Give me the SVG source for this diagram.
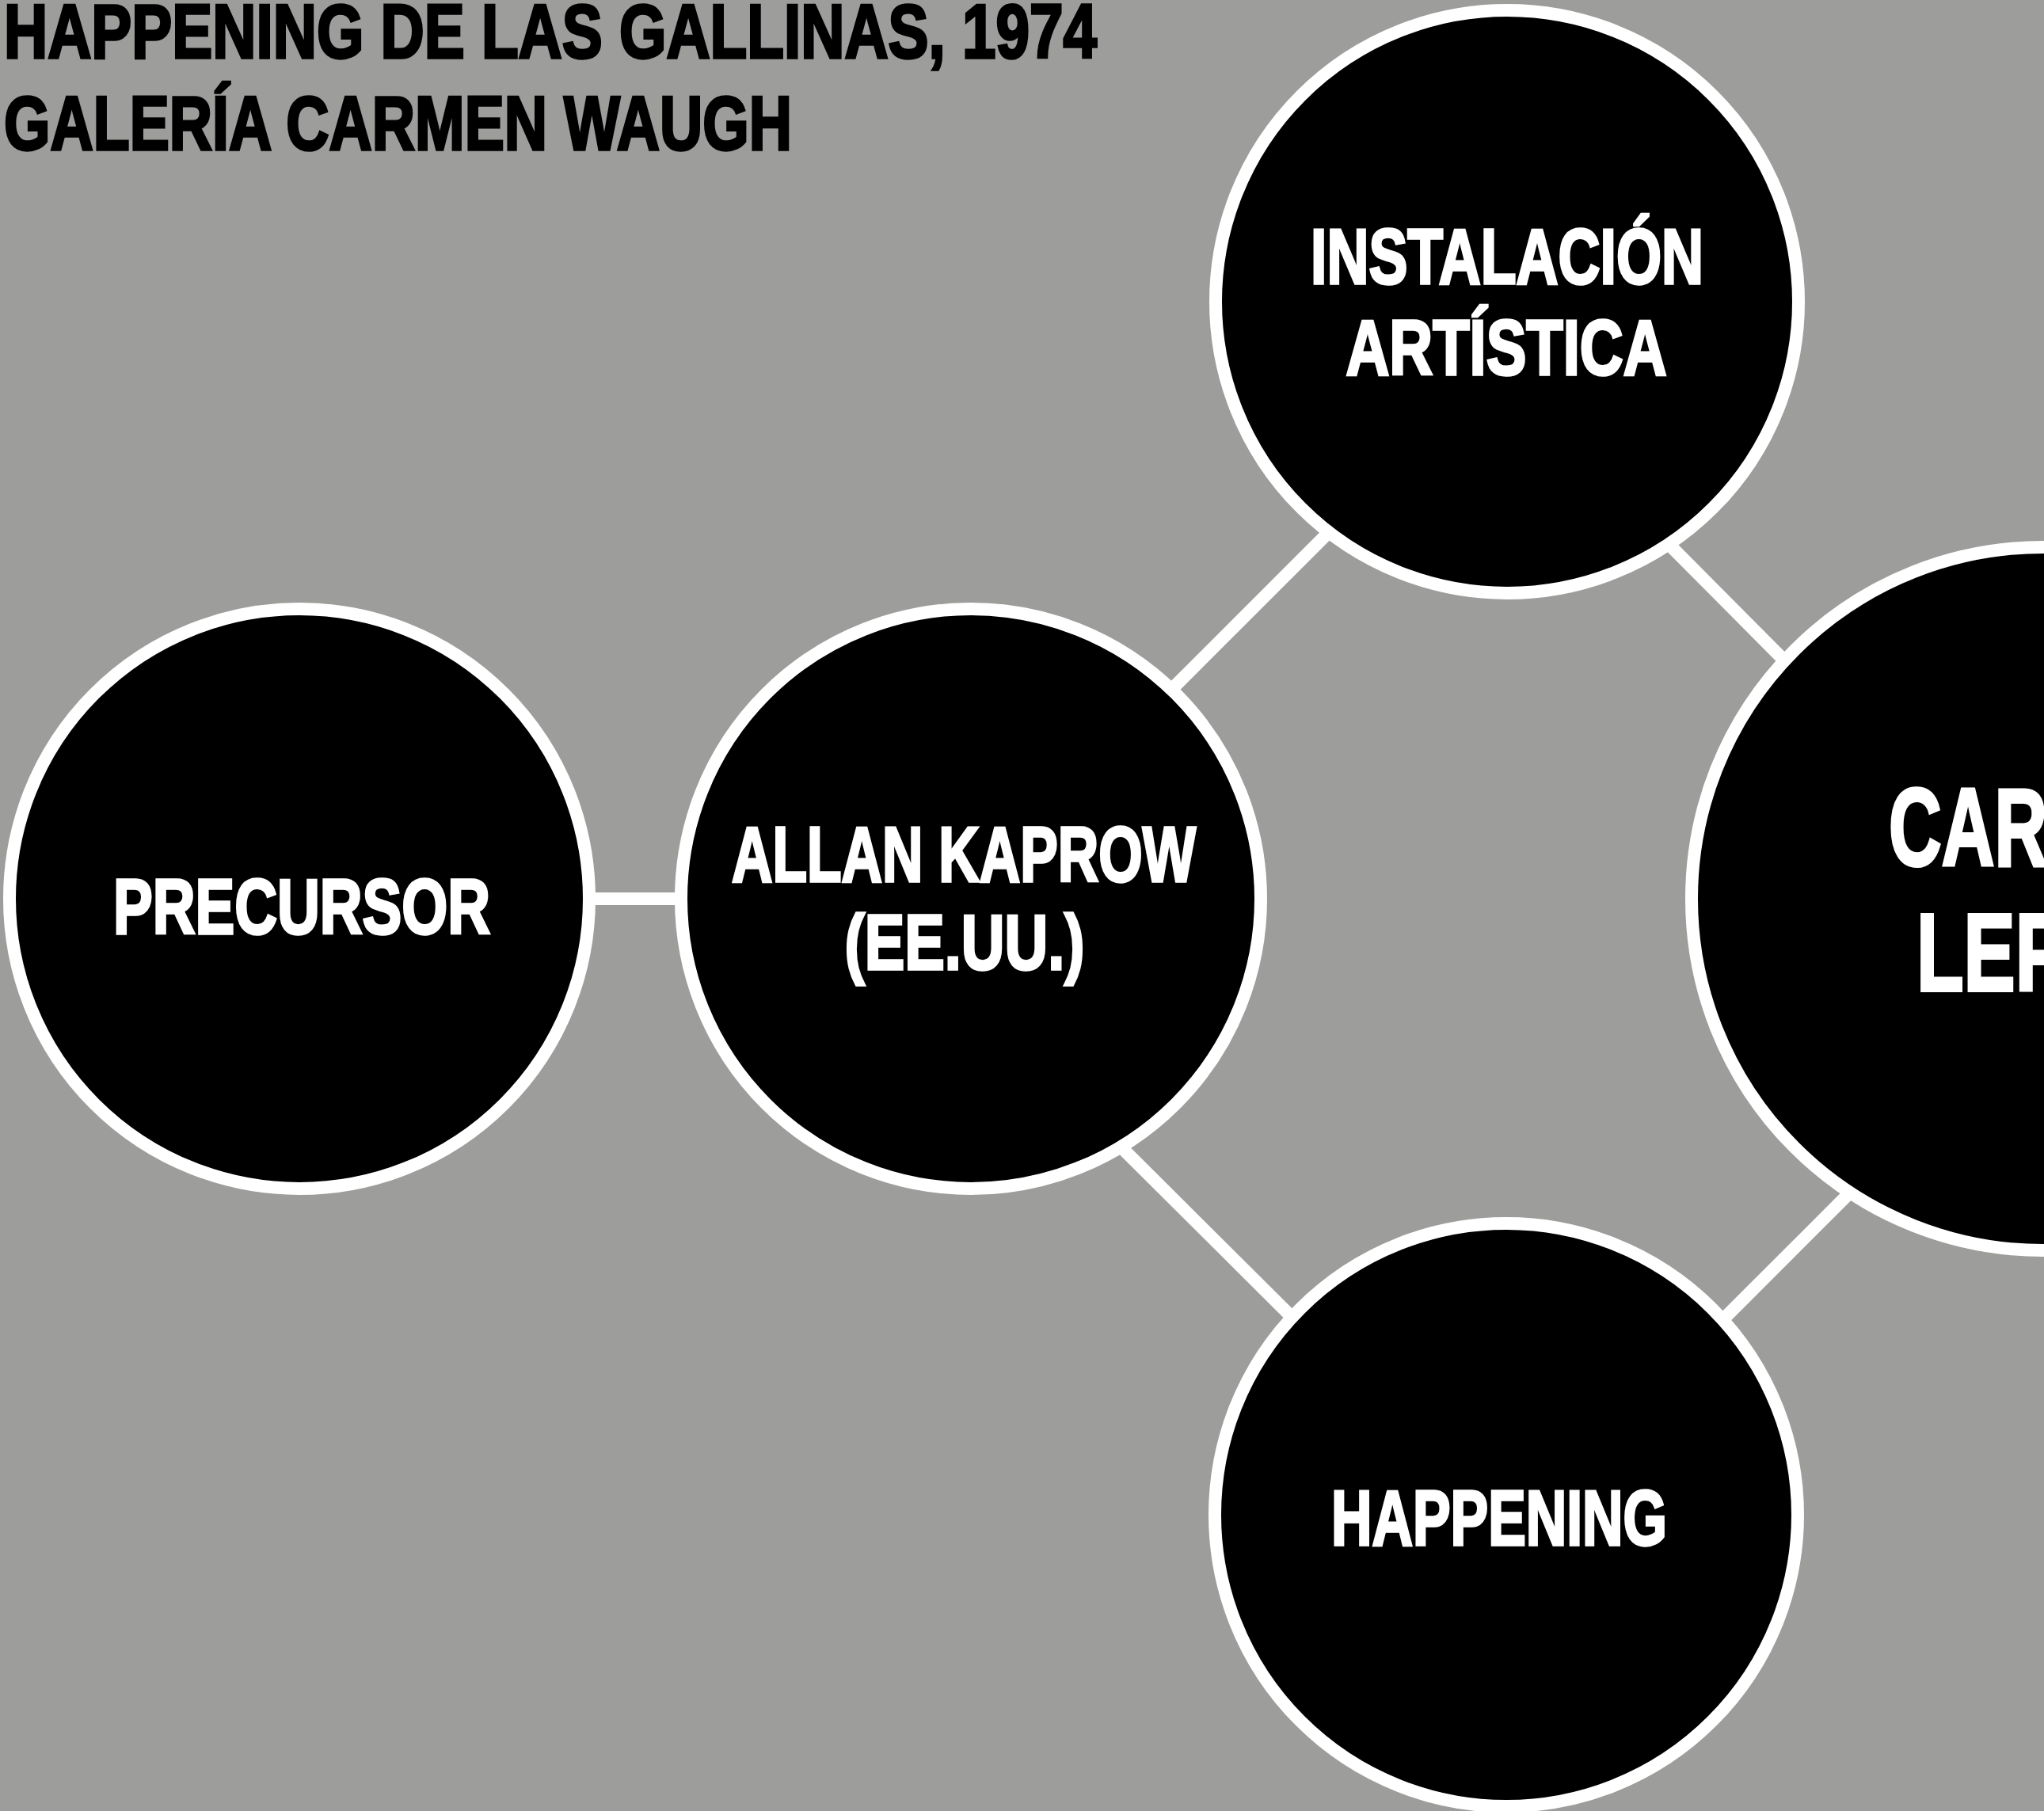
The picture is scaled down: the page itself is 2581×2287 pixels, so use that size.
<svg xmlns="http://www.w3.org/2000/svg" width="2581" height="2287" viewBox="0 0 2581 2287">
<style>
.bg{fill:#9d9d9b}
.edge{stroke:#ffffff;stroke-width:16;fill:none}
.node{fill:#000000;stroke:#ffffff;stroke-width:16}
.lbl{font-family:"Liberation Sans Narrow","Liberation Sans",Arial,sans-serif;font-weight:bold;fill:#ffffff;stroke:#ffffff;stroke-width:3.5;stroke-linejoin:miter;text-anchor:middle;font-size:99px}
.big{font-size:139px;stroke-width:4}
.title{font-family:"Liberation Sans Narrow","Liberation Sans",Arial,sans-serif;font-weight:bold;fill:#000000;stroke:#000000;stroke-width:3.5;font-size:97px}
</style>
<rect class="bg" x="0" y="0" width="2581" height="2287"/>
<g id="title">
<text class="title" x="5" y="73" textLength="1380" lengthAdjust="spacingAndGlyphs">HAPPENING DE LAS GALLINAS, 1974</text>
<text class="title" x="5" y="189" textLength="995" lengthAdjust="spacingAndGlyphs">GALERÍA CARMEN WAUGH</text>
</g>
<g id="connectors">
<line class="edge" x1="740" y1="1135" x2="870" y2="1135"/>
<line class="edge" x1="1473" y1="877" x2="1686" y2="664"/>
<line class="edge" x1="2099" y1="679" x2="2261" y2="842"/>
<line class="edge" x1="1410" y1="1443" x2="1640" y2="1672"/>
<line class="edge" x1="2168" y1="1674" x2="2343" y2="1499"/>
</g>
<g id="node-precursor">
<circle class="node" cx="378" cy="1135" r="366"/>
<text class="lbl" x="381" y="1179" textLength="476" lengthAdjust="spacingAndGlyphs">PRECURSOR</text>
</g>
<g id="node-kaprow">
<circle class="node" cx="1226" cy="1135" r="366"/>
<text class="lbl" x="1217" y="1113" textLength="586" lengthAdjust="spacingAndGlyphs">ALLAN KAPROW</text>
<text class="lbl" x="1218" y="1224" textLength="303" lengthAdjust="spacingAndGlyphs">(EE.UU.)</text>
</g>
<g id="node-instalacion">
<circle class="node" cx="1903" cy="381" r="368"/>
<text class="lbl" x="1903" y="358" textLength="496" lengthAdjust="spacingAndGlyphs">INSTALACIÓN</text>
<text class="lbl" x="1902" y="473" textLength="405" lengthAdjust="spacingAndGlyphs">ARTÍSTICA</text>
</g>
<g id="node-happening">
<circle class="node" cx="1902" cy="1913" r="368"/>
<text class="lbl" x="1893" y="1951" textLength="424" lengthAdjust="spacingAndGlyphs">HAPPENING</text>
</g>
<g id="node-leppe">
<circle class="node" cx="2580" cy="1135" r="444"/>
<text class="lbl big" x="2580" y="1093" textLength="390" lengthAdjust="spacingAndGlyphs">CARLOS</text>
<text class="lbl big" x="2580" y="1251" textLength="320" lengthAdjust="spacingAndGlyphs">LEPPE</text>
</g>
</svg>
